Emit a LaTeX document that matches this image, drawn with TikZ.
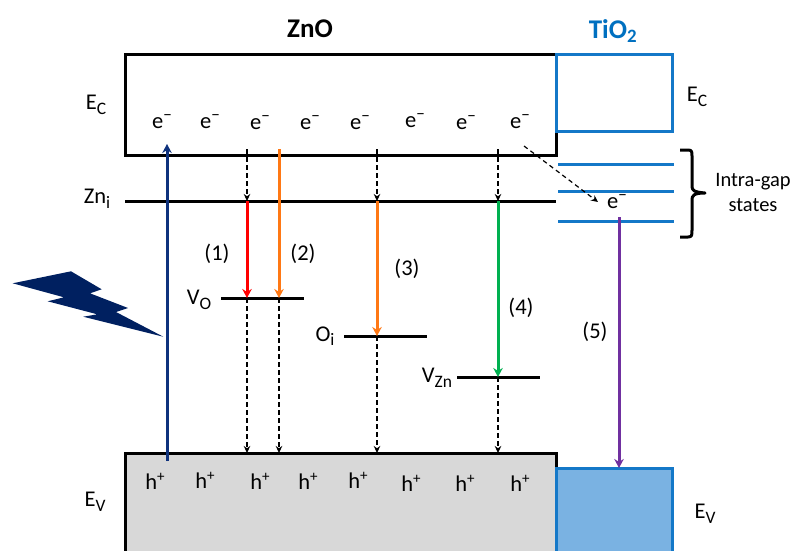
\documentclass[tikz,border=0pt]{standalone}
\usepackage{fontspec}
\setmainfont{Carlito}
\usetikzlibrary{arrows.meta}
\definecolor{tiblue}{RGB}{0,112,192}
\definecolor{tiline}{RGB}{20,120,200}
\definecolor{navy}{RGB}{0,32,96}
\definecolor{upblue}{RGB}{15,50,125}
\definecolor{tifill}{RGB}{122,178,226}
\definecolor{vgrey}{RGB}{216,216,216}
\definecolor{myorange}{RGB}{255,120,20}
\definecolor{mygreen}{RGB}{0,176,80}
\definecolor{mypurple}{RGB}{112,48,160}
\tikzset{
  x=1pt,y=-1pt,
  lab/.style={inner sep=0pt,font=\fontsize{22.5}{25}\selectfont},
  small/.style={inner sep=0pt,font=\fontsize{20.5}{25}\selectfont,align=center},
  level/.style={line width=3pt},
  tilevel/.style={line width=3pt,draw=tiline},
  dasharrow/.style={line width=1.2pt,dash pattern=on 4.5pt off 3.5pt,-{Stealth[length=7pt,width=6.5pt]}},
  solidarrow/.style={line width=3pt,-{Stealth[length=9pt,width=9.5pt]}}
}
\newcommand{\el}{e\raisebox{.36em}{\fontsize{17}{17}\selectfont −}}
\newcommand{\ho}{h\raisebox{.36em}{\fontsize{15}{15}\selectfont +}}
\newcommand{\sbb}[1]{\raisebox{-.2em}{\fontsize{17.5}{17.5}\selectfont #1}}
\begin{document}
\begin{tikzpicture}
\useasboundingbox (0,0) rectangle (792,551);
% bands
\draw[line width=3pt,fill=vgrey] (125,553) -- (125,453) -- (556,453) -- (556,553);
\fill[tifill] (556,468) rectangle (672,551);
\draw[line width=3pt,draw=tiline] (556,553) -- (556,468) -- (672,468) -- (672,553);
\draw[line width=3pt] (556,55) -- (125,55) -- (125,155) -- (556,155) -- (556,130);
\draw[line width=3pt,draw=tiline] (556,55) rectangle (672,131);
% levels
\coordinate (zl) at (125,201); \coordinate (zr) at (556,201);
\draw[level] (zl) -- (zr);
\coordinate (vol) at (221,298); \coordinate (vor) at (304,298);
\draw[level] (vol) -- (vor);
\coordinate (oil) at (344,336); \coordinate (oir) at (427,336);
\draw[level] (oil) -- (oir);
\coordinate (vzl) at (457,377); \coordinate (vzr) at (540,377);
\draw[level] (vzl) -- (vzr);
\draw[tilevel] (558,164) -- (674,164);
\draw[tilevel] (558,191) -- (674,191);
\draw[tilevel] (558,221) -- (674,221);
% brace
\draw[line width=3pt,line join=round] (680,150) -- (688,150) .. controls (692,150) and (692,152) .. (692,156) -- (692,186) .. controls (692,190) and (693,192) .. (705,193) .. controls (693,193) and (692,196) .. (692,200) -- (692,230) .. controls (692,235) and (692,237) .. (688,237) -- (680,237);
% lightning
\fill[navy] (12.7,283.3) -- (71,271.3) -- (101.7,289.3) -- (90,293.3) -- (128,308) -- (116,312) -- (163.3,336.7) -- (83.3,316.7) -- (97.3,314.3) -- (47.7,301.3) -- (64,297.3) -- cycle;
% titles
\node[inner sep=0pt,font=\fontsize{27}{30}\selectfont\bfseries] (zno) at (310,29) {ZnO};
\node[inner sep=0pt,font=\fontsize{27}{30}\selectfont\bfseries,text=tiblue] (tio) at (613,31) {TiO\textsubscript{2}};
% side labels
\node[lab] (ec1) at (96,105) {E\sbb{C}};
\node[lab] (ec2) at (697,97) {E\sbb{C}};
\node[lab] (ev1) at (95,502) {E\sbb{V}};
\node[lab] (ev2) at (705,514) {E\sbb{V}};
\node[lab] (zn) at (97,199) {Zn\sbb{i}};
\node[lab] (vo) at (199,300) {V\sbb{O}};
\node[lab] (oi) at (325,336) {O\sbb{i}};
\node[lab] (vz) at (437,378) {V\sbb{Zn}};
\node[lab] (p1) at (217,254) {(1)};
\node[lab] (p2) at (303,254) {(2)};
\node[lab] (p3) at (407,269) {(3)};
\node[lab] (p4) at (521,308) {(4)};
\node[lab] (p5) at (595,332) {(5)};
\node[small] (igs) at (753,192) {Intra-gap\\states};
% electrons
\node[lab] (e1) at (162,122) {\el};
\node[lab] (e2) at (210,122) {\el};
\node[lab] (e3) at (260,123) {\el};
\node[lab] (e4) at (310,123) {\el};
\node[lab] (e5) at (360,123) {\el};
\node[lab] (e6) at (415,121) {\el};
\node[lab] (e7) at (466,123) {\el};
\node[lab] (e8) at (520,122) {\el};
\node[lab] (e9) at (617,202) {\el};
% holes
\node[lab] (h1) at (155,481) {\ho};
\node[lab] (h2) at (205,480) {\ho};
\node[lab] (h3) at (260,481) {\ho};
\node[lab] (h4) at (308,481) {\ho};
\node[lab] (h5) at (358,480) {\ho};
\node[lab] (h6) at (411,483) {\ho};
\node[lab] (h7) at (465,483) {\ho};
\node[lab] (h8) at (520,483) {\ho};
% anchor coordinates
\coordinate (upS) at (167,461); \coordinate (upE) at (167,144);
\coordinate (a1) at (247,149); \coordinate (a1z) at (247,201); \coordinate (a1v) at (247,298); \coordinate (a1h) at (247,453);
\coordinate (a2) at (279,149); \coordinate (a2v) at (279,298); \coordinate (a2h) at (279,453);
\coordinate (a3) at (377,149); \coordinate (a3z) at (377,201); \coordinate (a3o) at (377,336); \coordinate (a3h) at (377,453);
\coordinate (a4) at (498,149); \coordinate (a4z) at (498,201); \coordinate (a4v) at (498,377); \coordinate (a4h) at (498,453);
\coordinate (a5) at (619,217); \coordinate (a5h) at (619,468);
\coordinate (dS) at (524,146); \coordinate (dE) at (598,202);
% arrows
\draw[solidarrow,draw=upblue,fill=upblue] (upS) -- (upE);
\draw[dasharrow] (a1) -- (a1z);
\draw[dasharrow] (a3) -- (a3z);
\draw[dasharrow] (a4) -- (a4z);
\draw[dasharrow] (dS) -- (dE);
\draw[solidarrow,draw=red,fill=red] (a1z) -- (a1v);
\draw[solidarrow,draw=myorange,fill=myorange] (a2) -- (a2v);
\draw[solidarrow,draw=myorange,fill=myorange] (a3z) -- (a3o);
\draw[solidarrow,draw=mygreen,fill=mygreen] (a4z) -- (a4v);
\draw[solidarrow,draw=mypurple,fill=mypurple] (a5) -- (a5h);
\draw[dasharrow] (a1v) -- (a1h);
\draw[dasharrow] (a2v) -- (a2h);
\draw[dasharrow] (a3o) -- (a3h);
\draw[dasharrow] (a4v) -- (a4h);
\end{tikzpicture}
\end{document}
